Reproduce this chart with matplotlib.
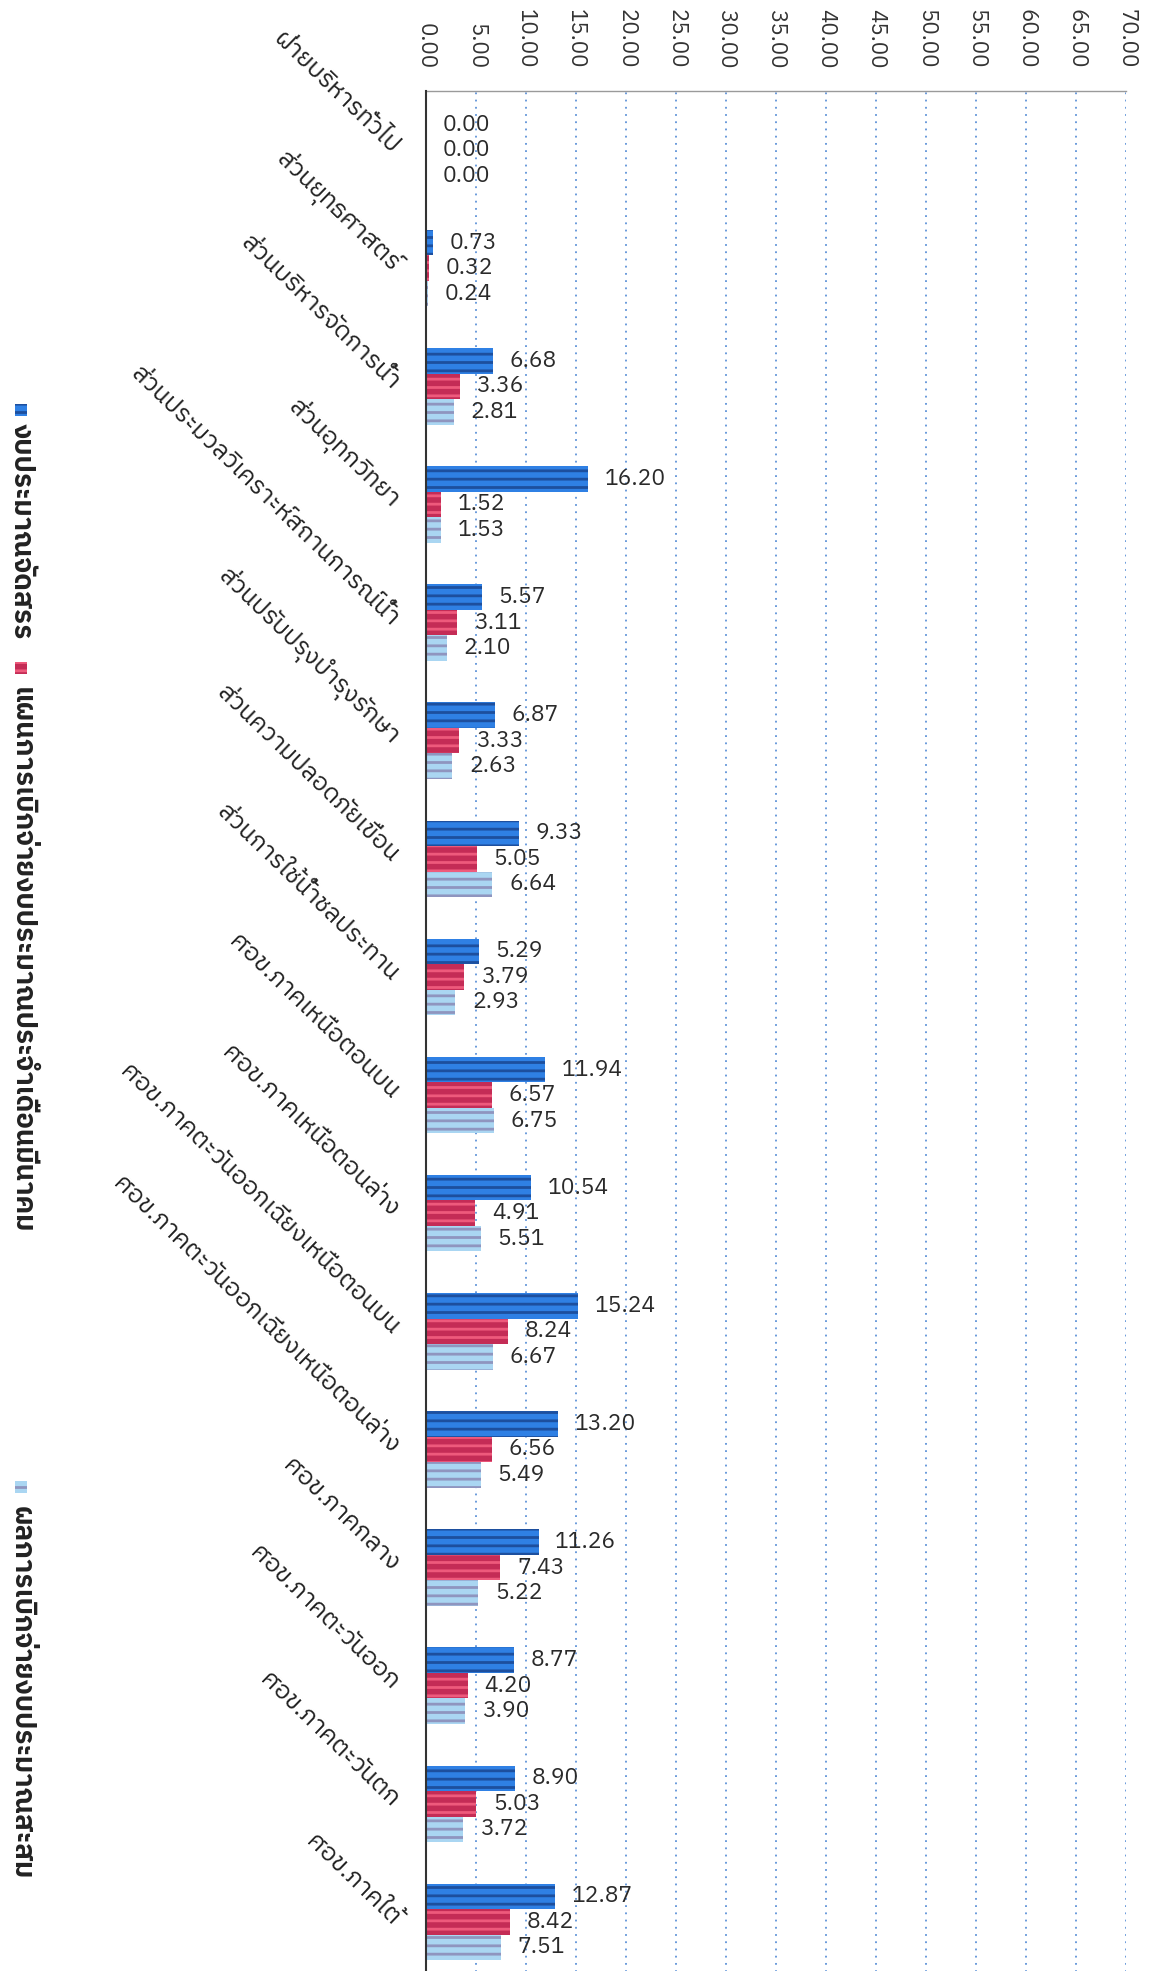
import matplotlib
matplotlib.use("Agg")
import matplotlib.pyplot as plt
from matplotlib import font_manager
from matplotlib.ft2font import FT2Font
from matplotlib.patches import Rectangle
import numpy as np


def find_thai_fonts():
    # look for any installed font that has Thai glyphs
    found = []
    for f in font_manager.fontManager.ttflist:
        try:
            ft = FT2Font(f.fname)
            if ft.get_char_index(ord('ก')) and f.name not in found:
                found.append(f.name)
        except Exception:
            pass
    found.sort(key=lambda n: (0 if 'Thai' in n else 1, n))
    return found


categories = ["ฝ่ายบริหารทั่วไป", "ส่วนยุทธศาสตร์", "ส่วนบริหารจัดการน้ำ", "ส่วนอุทกวิทยา",
              "ส่วนประมวลวิเคราะห์สถานการณ์น้ำ", "ส่วนปรับปรุงบำรุงรักษา", "ส่วนความปลอดภัยเขื่อน",
              "ส่วนการใช้น้ำชลประทาน", "ศอข.ภาคเหนือตอนบน", "ศอข.ภาคเหนือตอนล่าง",
              "ศอข.ภาคตะวันออกเฉียงเหนือตอนบน", "ศอข.ภาคตะวันออกเฉียงเหนือตอนล่าง",
              "ศอข.ภาคกลาง", "ศอข.ภาคตะวันออก", "ศอข.ภาคตะวันตก", "ศอข.ภาคใต้"]
budget = [0.00, 0.73, 6.68, 16.20, 5.57, 6.87, 9.33, 5.29, 11.94, 10.54, 15.24, 13.20, 11.26, 8.77, 8.90, 12.87]
plan = [0.00, 0.32, 3.36, 1.52, 3.11, 3.33, 5.05, 3.79, 6.57, 4.91, 8.24, 6.56, 7.43, 4.20, 5.03, 8.42]
actual = [0.00, 0.24, 2.81, 1.53, 2.10, 2.63, 6.64, 2.93, 6.75, 5.51, 6.67, 5.49, 5.22, 3.90, 3.72, 7.51]
series_names = ["งบประมาณจัดสรร", "แผนการเบิกจ่ายงบประมาณประจำเดือนมีนาคม", "ผลการเบิกจ่ายงบประมาณสะสม"]
xticks = np.arange(0, 71, 5)

thai = find_thai_fonts()
plt.rcParams['font.family'] = thai[:1] + ['DejaVu Sans']
plt.rcParams['hatch.linewidth'] = 2.0

fills = ["#2f80e4", "#c42c56", "#aad6f2"]
stripes = ["#1d4f9e", "#ee5a7c", "#8f95bf"]

W, H = 1153, 1971
fig = plt.figure(figsize=(W / 100, H / 100), dpi=100)
ax = fig.add_axes([426 / W, (H - 1981) / H, 700 / W, 1890 / H])

y = np.arange(len(categories))
bh = 0.216
for k, vals in enumerate([budget, plan, actual]):
    ax.barh(y + (k - 1) * bh, vals, height=bh, color=fills[k], edgecolor=stripes[k],
            linewidth=0, hatch='--', zorder=3)
    for yi, v in zip(y, vals):
        ax.annotate(f"{v:.2f}", xy=(v, yi + (k - 1) * bh), xytext=(12, 0),
                    textcoords='offset points', ha='left', va='center',
                    fontsize=16.5, color='#2a2a2a')

ax.set_xlim(0, 70)
ax.set_ylim(len(categories) - 0.5, -0.5)
ax.xaxis.tick_top()
ax.set_xticks(xticks)
ax.set_xticklabels([f"{t:.2f}" for t in xticks], rotation=-90, fontsize=16, color='#333333')
ax.tick_params(axis='x', length=0, pad=16)
ax.set_yticks(y)
ax.set_yticklabels(categories, rotation=-44, ha='right', va='center',
                   rotation_mode='anchor', fontsize=18, color='#222222')
ax.tick_params(axis='y', length=0, pad=22)

ax.grid(axis='x', color='#5f93d8', linestyle=(0, (1, 3)), linewidth=1.3, zorder=0)
for s in ['right', 'bottom']:
    ax.spines[s].set_visible(False)
ax.spines['left'].set_color('#333333')
ax.spines['left'].set_linewidth(1.5)
ax.spines['left'].set_zorder(4)
ax.spines['top'].set_color('#9a9a9a')
ax.spines['top'].set_linewidth(1.0)

# legend drawn by hand, rotated like the rest of the scan
legend_pos = [(410, 423), (668, 687), (1487, 1506)]
for k, (my, ty) in enumerate(legend_pos):
    fig.patches.append(Rectangle((15 / W, 1 - (my + 6) / H), 12 / W, 12 / H,
                                 transform=fig.transFigure, facecolor=fills[k],
                                 edgecolor=stripes[k], linewidth=0, hatch='--'))
    fig.text(21 / W, 1 - ty / H, series_names[k], rotation=-90, ha='center', va='top',
             fontsize=20, fontweight='bold', color='#222222')

fig.savefig("out.png", dpi=100)
